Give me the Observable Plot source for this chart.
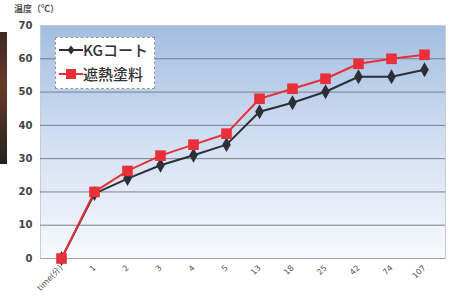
<!DOCTYPE html>
<html>
<head>
<meta charset="utf-8">
<script src="https://cdn.jsdelivr.net/npm/d3@7"></script>
<script src="https://cdn.jsdelivr.net/npm/@observablehq/plot@0.6"></script>
<style>
  html, body { margin: 0; padding: 0; background: #fff; }
  #wrap { position: relative; width: 454px; height: 296px; font-family: "Noto Sans CJK JP", "DejaVu Sans", sans-serif; }
  #title { position: absolute; left: 14px; top: 2px; font-size: 9px; font-weight: bold; color: #555; }
  #edge { position: absolute; left: 0; top: 32px; width: 7px; height: 132px; background: linear-gradient(#3a2a24, #6a3a28 40%, #222 100%); }
  #legend { position: absolute; left: 55px; top: 37px; width: 100px; height: 52px; background: #fff; border: 1px dashed #999; box-sizing: border-box; }
  .item { position: absolute; left: 3px; display: flex; align-items: center; font-size: 15px; font-weight: 500; color: #333; white-space: nowrap; }
</style>
</head>
<body>
<div id="wrap">
  <div id="edge"></div>
  <div id="chart"></div>
  <div id="title">温度（℃）</div>
  <div id="legend">
    <div class="item" style="top:1px"><svg width="24" height="14"><line x1="0" y1="7" x2="24" y2="7" stroke="#2b3036" stroke-width="2"/><path d="M12,2.5L15.5,7L12,11.5L8.5,7Z" fill="#2b3036"/></svg><span>KGコート</span></div>
    <div class="item" style="top:25px"><svg width="24" height="14"><line x1="0" y1="7" x2="24" y2="7" stroke="#e8303a" stroke-width="2"/><rect x="7" y="2" width="10" height="10" fill="#e8303a"/></svg><span>遮熱塗料</span></div>
  </div>
</div>
<script>
const categories = ["time(分)", "1", "2", "3", "4", "5", "13", "18", "25", "42", "74", "107"];
const kgCoat = [0, 19.5, 24, 28, 31, 34.2, 44.1, 46.8, 50.1, 54.6, 54.6, 56.7];
const shanetsu = [0, 20, 26.3, 30.9, 34.2, 37.5, 48, 51, 54, 58.5, 60, 61.2];
const yTicks = [0, 10, 20, 30, 40, 50, 60, 70];
const seriesNames = ["KGコート", "遮熱塗料"];

const kgData = categories.map((c, i) => ({x: c, y: kgCoat[i], s: seriesNames[0]}));
const shData = categories.map((c, i) => ({x: c, y: shanetsu[i], s: seriesNames[1]}));

const chart = Plot.plot({
  width: 454,
  height: 296,
  marginLeft: 40,
  marginRight: 9,
  marginTop: 25,
  marginBottom: 38,
  style: {fontFamily: "'DejaVu Sans', sans-serif", background: "transparent"},
  x: {type: "point", domain: categories, padding: 0.5, label: null, tickSize: 0},
  y: {domain: [0, 70], ticks: yTicks, label: null, tickSize: 0},
  marks: [
    Plot.frame({fill: "url(#bgGrad)", stroke: "#c8ccd4"}),
    Plot.gridY(yTicks.filter(d => d > 0 && d < 70), {stroke: "#6c6f74", strokeOpacity: 0.85, strokeWidth: 1}),
    Plot.ruleY([0], {stroke: "#a0a4aa"}),
    Plot.axisY({ticks: yTicks, tickSize: 0, tickPadding: 8, fontSize: 10, fontWeight: "bold", fill: "#444"}),
    Plot.axisX({tickSize: 0, tickRotate: -45, textAnchor: "end", tickPadding: 8, fontSize: 8, fill: "#555"}),
    Plot.line(kgData, {x: "x", y: "y", stroke: "#2b3036", strokeWidth: 2}),
    Plot.line(shData, {x: "x", y: "y", stroke: "#e8303a", strokeWidth: 2}),
    Plot.dot(kgData, {x: "x", y: "y", symbol: "diamond", r: 4.5, fill: "#2b3036", stroke: "none"}),
    Plot.dot(shData, {x: "x", y: "y", symbol: "square", r: 6, fill: "#e8303a", stroke: "none"})
  ]
});

const defs = d3.select(chart).insert("defs", ":first-child");
const grad = defs.append("linearGradient").attr("id", "bgGrad").attr("x1", 0).attr("y1", 0).attr("x2", 0).attr("y2", 1);
grad.append("stop").attr("offset", "0%").attr("stop-color", "#a3bee1");
grad.append("stop").attr("offset", "55%").attr("stop-color", "#d6e2f3");
grad.append("stop").attr("offset", "100%").attr("stop-color", "#f7f9fd");

document.getElementById("chart").appendChild(chart);
</script>
</body>
</html>
